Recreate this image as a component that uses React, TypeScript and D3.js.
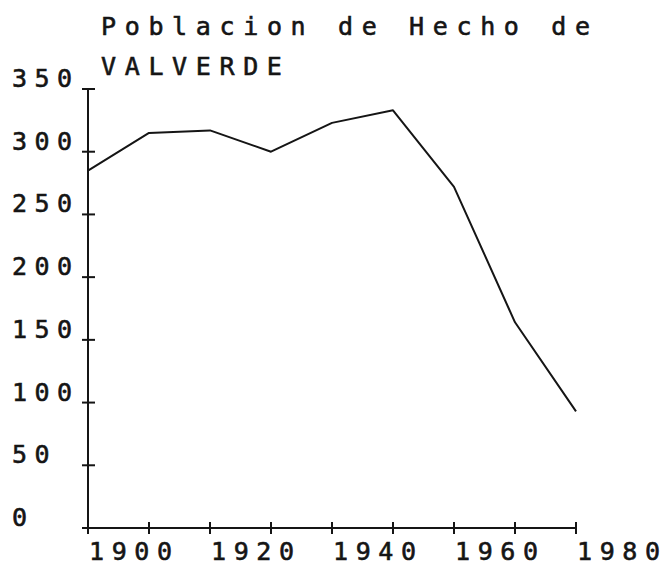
import React from "react";
import * as d3 from "d3";

const years = [1900, 1910, 1920, 1930, 1940, 1950, 1960, 1970, 1980];
const population = [285, 315, 317, 300, 323, 333, 272, 164, 93];
const xTicks = [1900, 1910, 1920, 1930, 1940, 1950, 1960, 1970, 1980];
const xTickLabels = [1900, 1920, 1940, 1960, 1980];
const yTicks = [0, 50, 100, 150, 200, 250, 300, 350];
const titleLines = ["Poblacion de Hecho de", "VALVERDE"];

const W = 665;
const H = 566;
const FONT = "'DejaVu Sans Mono', 'Liberation Mono', monospace";
const INK = "#151515";
const GLYPH = 15;

function MonoText({ x, y, text, pitch }: { x: number; y: number; text: string; pitch: number }) {
  const len = text.length;
  return (
    <text
      x={x}
      y={y}
      fill={INK}
      stroke={INK}
      strokeWidth={0.6}
      textLength={len > 1 ? (len - 1) * pitch + GLYPH : undefined}
      lengthAdjust="spacing"
      style={{ fontFamily: FONT, fontSize: 25 }}
    >
      {text}
    </text>
  );
}

export default function App() {
  const x = d3.scaleLinear().domain([1900, 1980]).range([88, 576]);
  const y = d3.scaleLinear().domain([0, 350]).range([528, 89]);
  const line = d3
    .line<number>()
    .x((_, i) => x(years[i]))
    .y((d) => y(d));

  return (
    <svg
      width={W}
      height={H}
      style={{ position: "absolute", left: 0, top: 0, background: "#fff" }}
    >
      <rect width={W} height={H} fill="#fff" />
      {titleLines.map((t, i) => (
        <MonoText key={t} x={101} y={35 + i * 40} text={t} pitch={23.7} />
      ))}
      {/* y axis */}
      <line x1={x(1900)} x2={x(1900)} y1={y(350)} y2={y(0) + 5} stroke={INK} strokeWidth={2} />
      {yTicks.map((t) => (
        <g key={t}>
          <line x1={x(1900) - 6} x2={x(1900) + 7} y1={y(t)} y2={y(t)} stroke={INK} strokeWidth={2} />
          <MonoText x={12} y={y(t) - 2} text={String(t)} pitch={22.5} />
        </g>
      ))}
      {/* x axis */}
      <line x1={x(1900) - 6} x2={x(1980)} y1={y(0)} y2={y(0)} stroke={INK} strokeWidth={2} />
      {xTicks.map((t) => (
        <line key={t} x1={x(t)} x2={x(t)} y1={y(0) - 6} y2={y(0) + 6} stroke={INK} strokeWidth={2} />
      ))}
      {xTickLabels.map((t) => (
        <MonoText key={t} x={x(t) + 1} y={560} text={String(t)} pitch={22.7} />
      ))}
      <path d={line(population) || ""} fill="none" stroke={INK} strokeWidth={2} strokeLinejoin="round" />
    </svg>
  );
}
